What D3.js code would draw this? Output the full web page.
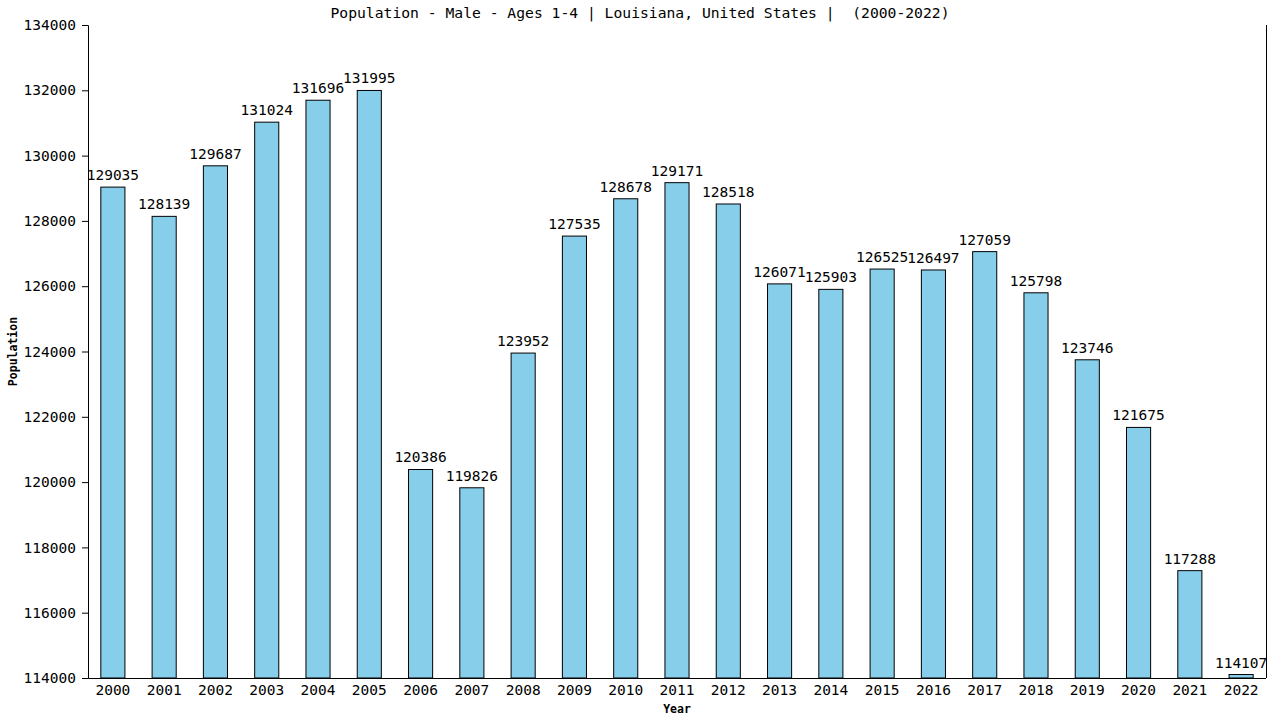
<!DOCTYPE html>
<html>
<head>
<meta charset="utf-8">
<script src="https://cdn.jsdelivr.net/npm/d3@7"></script>
<style>
  body { margin: 0; background: #fff; }
  svg text { font-family: "DejaVu Sans Mono", monospace; fill: #000; }
  .domain, .tick line { stroke: #000; }
</style>
</head>
<body>
<svg class="chart" width="1280" height="720"></svg>
<script>
var years = ["2000", "2001", "2002", "2003", "2004", "2005", "2006", "2007", "2008", "2009", "2010",
    "2011", "2012", "2013", "2014", "2015", "2016", "2017", "2018", "2019", "2020", "2021", "2022"];
var population = [129035, 128139, 129687, 131024, 131696, 131995, 120386, 119826, 123952, 127535, 128678,
    129171, 128518, 126071, 125903, 126525, 126497, 127059, 125798, 123746, 121675, 117288, 114107];
var yTicks = [114000, 116000, 118000, 120000, 122000, 124000, 126000, 128000, 130000, 132000, 134000];

var margin = {top: 25, bottom: 42, right: 14, left: 88},
    width = 1280 - margin.left - margin.right,
    height = 720 - margin.top - margin.bottom;

var svg = d3.select(".chart");
var chart = svg.append("g")
    .attr("transform", "translate(" + margin.left + "," + margin.top + ")");

var x = d3.scaleBand().domain(years).range([0, width]).paddingInner(0.53).paddingOuter(0.25);
var y = d3.scaleLinear().domain([114000, 134000]).range([height, 0]);

var rows = years.map(function(d, i) { return {year: d, value: population[i]}; });

chart.selectAll(".bar").data(rows).enter()
    .append("rect")
    .attr("class", "bar")
    .attr("x", function(d) { return x(d.year); })
    .attr("y", function(d) { return y(d.value); })
    .attr("width", x.bandwidth())
    .attr("height", function(d) { return height - y(d.value); })
    .attr("fill", "#87ceeb")
    .attr("stroke", "#000")
    .attr("stroke-width", 1);

chart.selectAll(".label").data(rows).enter()
    .append("text")
    .attr("class", "label")
    .attr("x", function(d) { return x(d.year) + x.bandwidth() / 2; })
    .attr("y", function(d) { return y(d.value) - 7; })
    .attr("text-anchor", "middle")
    .style("font-size", "14.5px")
    .text(function(d) { return d.value; });

var yAxis = chart.append("g")
    .call(d3.axisLeft(y).tickValues(yTicks).tickSize(6).tickPadding(6).tickFormat(d3.format("d")));
yAxis.selectAll("text").style("font-size", "14.5px");

var xAxis = chart.append("g")
    .attr("transform", "translate(0," + height + ")")
    .call(d3.axisBottom(x).tickSize(0).tickPadding(7));
xAxis.selectAll("text").style("font-size", "14.5px");
xAxis.select(".domain").attr("d", "M0.5,0.5H" + width);

chart.append("line")
    .attr("x1", width + 0.5).attr("x2", width + 0.5)
    .attr("y1", 0).attr("y2", height)
    .attr("stroke", "#000");

svg.append("text")
    .attr("x", 640).attr("y", 18)
    .attr("text-anchor", "middle")
    .style("font-size", "14.7px")
    .style("white-space", "pre")
    .text("Population - Male - Ages 1-4 | Louisiana, United States |  (2000-2022)");

svg.append("text")
    .attr("x", margin.left + width / 2).attr("y", 713)
    .attr("text-anchor", "middle")
    .style("font-size", "11.5px").style("font-weight", "bold")
    .text("Year");

svg.append("text")
    .attr("transform", "translate(17," + (margin.top + height / 2) + ") rotate(-90)")
    .attr("text-anchor", "middle")
    .style("font-size", "11.5px").style("font-weight", "bold")
    .text("Population");
</script>
</body>
</html>
